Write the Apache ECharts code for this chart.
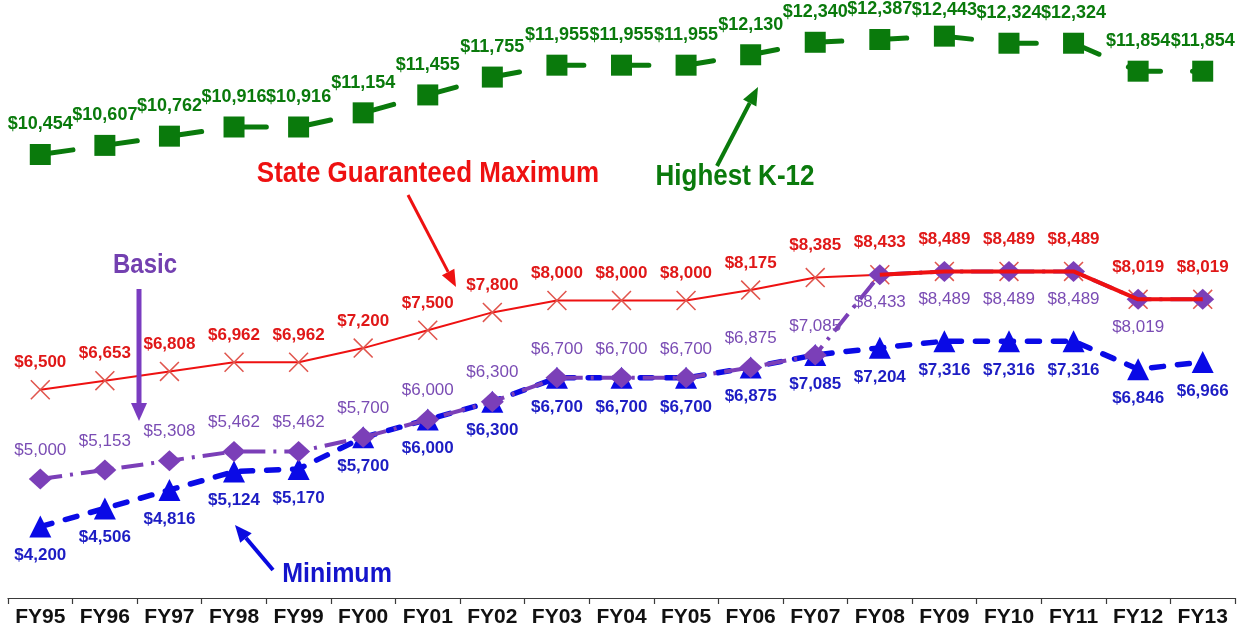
<!DOCTYPE html>
<html>
<head>
<meta charset="utf-8">
<script src="https://cdn.jsdelivr.net/npm/echarts@6/dist/echarts.min.js"></script>
<style>
  html, body { margin: 0; padding: 0; background: #ffffff; }
  #chart { width: 1249px; height: 631px; }
</style>
</head>
<body>
<div id="chart"></div>
<script>
// Fiscal years on the category axis
const years = ['FY95','FY96','FY97','FY98','FY99','FY00','FY01','FY02','FY03','FY04',
               'FY05','FY06','FY07','FY08','FY09','FY10','FY11','FY12','FY13'];

// Per-pupil amounts (dollars)
const highestK12 = [10454,10607,10762,10916,10916,11154,11455,11755,11955,11955,
                    11955,12130,12340,12387,12443,12324,12324,11854,11854];
const stateGuaranteedMax = [6500,6653,6808,6962,6962,7200,7500,7800,8000,8000,
                            8000,8175,8385,8433,8489,8489,8489,8019,8019];
const basic = [5000,5153,5308,5462,5462,5700,6000,6300,6700,6700,
               6700,6875,7085,8433,8489,8489,8489,8019,8019];
const minimum = [4200,4506,4816,5124,5170,5700,6000,6300,6700,6700,
                 6700,6875,7085,7204,7316,7316,7316,6846,6966];

const FONT = '"Liberation Sans", Arial, Helvetica, sans-serif';

const C_GREEN = '#0a7a0c';
const C_RED = '#ee1111';
const C_RED_LABEL = '#e01818';
const C_CROSS = '#e0564e';
const C_PURPLE = '#7b3fb8';
const C_PURPLE_LABEL = '#7a4cb4';
const C_BLUE = '#0a0ae6';
const C_BLUE_LABEL = '#1d1dc4';

function money(v) {
  return '$' + String(v).replace(/\B(?=(\d{3})+(?!\d))/g, ',');
}

function labelStyle(color, size, weight, dy) {
  return {
    show: true,
    position: 'inside',
    offset: [0, dy],
    color: color,
    fontFamily: FONT,
    fontSize: size,
    fontWeight: weight,
    formatter: p => money(p.value)
  };
}

// thin "x" marker
const CROSS = 'path://M0,1.1L1.1,0L10,8.9L18.9,0L20,1.1L11.1,10L20,18.9L18.9,20L10,11.1L1.1,20L0,18.9L8.9,10Z';

// Label placement tweaks for crowded points
const greenData = highestK12.map((v, i) => (i === 14 ? { value: v, label: { offset: [0, -26] } } : v));
const redData = stateGuaranteedMax.map((v, i) => (i >= 12 ? { value: v, label: { offset: [0, -32] } } : v));
const basicData = basic.map((v, i) => {
  if (i === 18) return { value: v, label: { show: false } };
  if (i >= 13) return { value: v, label: { offset: [0, 28] } };
  return v;
});
// heavier red line over the later years
const redLate = stateGuaranteedMax.map((v, i) => (i >= 13 ? v : null));

// Arrow helper for the annotation callouts
function arrow(x1, y1, x2, y2, color, width, headLen, headW) {
  const dx = x2 - x1, dy = y2 - y1;
  const len = Math.sqrt(dx * dx + dy * dy);
  const ux = dx / len, uy = dy / len;
  const bx = x2 - ux * headLen, by = y2 - uy * headLen;
  const px = -uy * headW / 2, py = ux * headW / 2;
  return [
    { type: 'line', shape: { x1: x1, y1: y1, x2: bx, y2: by },
      style: { stroke: color, lineWidth: width }, z: 100 },
    { type: 'polygon', shape: { points: [[x2, y2], [bx + px, by + py], [bx - px, by - py]] },
      style: { fill: color }, z: 100 }
  ];
}

// Callout caption, slightly tall lettering
function note(text, x, y, color, size) {
  return {
    type: 'text', x: x, y: y, z: 100, scaleY: 1.12,
    style: {
      text: text, fill: color, font: 'bold ' + size + 'px ' + FONT,
      align: 'center', verticalAlign: 'middle'
    }
  };
}

const chart = echarts.init(document.getElementById('chart'), null, { renderer: 'canvas' });

chart.setOption({
  animation: false,
  backgroundColor: '#ffffff',
  grid: { left: 8, right: 14, top: 3, bottom: 33, containLabel: false },
  xAxis: {
    type: 'category',
    data: years,
    boundaryGap: true,
    axisLine: { show: true, lineStyle: { color: '#3a3a3a', width: 1.2 } },
    axisTick: { show: true, length: 6, lineStyle: { color: '#3a3a3a', width: 1.2 } },
    axisLabel: {
      color: '#111111', fontFamily: FONT, fontSize: 21, fontWeight: 'bold',
      margin: 9, interval: 0
    },
    splitLine: { show: false }
  },
  yAxis: {
    type: 'value', min: 3000, max: 13000,
    show: false, splitLine: { show: false }
  },
  series: [
    {
      name: 'Highest K-12', type: 'line', data: greenData,
      symbol: 'rect', symbolSize: 21, showAllSymbol: true,
      itemStyle: { color: C_GREEN },
      lineStyle: { color: C_GREEN, width: 5, type: [33, 32], cap: 'round' },
      label: labelStyle(C_GREEN, 18, 'bold', -30),
      z: 2
    },
    {
      name: 'Minimum', type: 'line', data: minimum,
      symbol: 'triangle', symbolSize: 22, showAllSymbol: true,
      itemStyle: { color: C_BLUE },
      lineStyle: { color: C_BLUE, width: 5.5, type: [12, 14], cap: 'round' },
      label: labelStyle(C_BLUE_LABEL, 17, 'bold', 29),
      z: 2
    },
    {
      name: 'State Guaranteed Maximum', type: 'line', data: redData,
      symbol: CROSS, symbolSize: 20, showAllSymbol: true,
      itemStyle: { color: C_CROSS },
      lineStyle: { color: C_RED, width: 2 },
      label: labelStyle(C_RED_LABEL, 17, 'bold', -27),
      z: 2
    },
    {
      name: 'Basic', type: 'line', data: basicData,
      symbol: 'diamond', symbolSize: [23, 21], showAllSymbol: true,
      itemStyle: { color: C_PURPLE },
      lineStyle: { color: C_PURPLE, width: 4, type: [22, 8, 3, 8] },
      label: labelStyle(C_PURPLE_LABEL, 17, 'normal', -29),
      z: 3
    },
    {
      name: 'State Guaranteed Maximum (FY08-FY13)', type: 'line', data: redLate,
      symbol: 'none', connectNulls: false,
      lineStyle: { color: C_RED, width: 4 },
      silent: true,
      z: 4
    }
  ],
  graphic: [
    note('State Guaranteed Maximum', 428, 174, C_RED, 26),
    ...arrow(408, 195, 456, 287, C_RED, 3, 17, 14),
    note('Highest K-12', 735, 177, C_GREEN, 26),
    ...arrow(717, 166, 758, 87, C_GREEN, 4, 18, 15),
    note('Basic', 145, 266, '#7340b0', 24),
    ...arrow(139, 289, 139, 421, '#7a3cc0', 5, 18, 16),
    note('Minimum', 337, 574, '#1414cc', 25),
    ...arrow(273, 570, 235, 525, '#0a0ae0', 4, 17, 15)
  ]
});
</script>
</body>
</html>
